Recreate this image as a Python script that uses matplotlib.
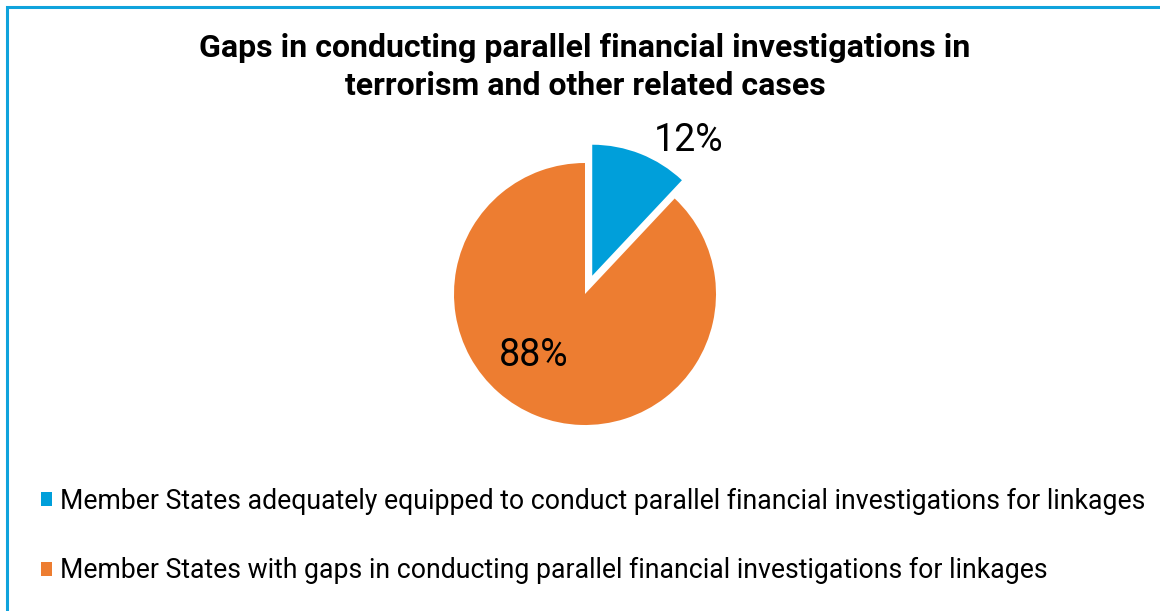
import matplotlib.pyplot as plt
from matplotlib.patches import Rectangle

plt.rcParams["font.family"] = ["Roboto", "DejaVu Sans"]

# data
labels = [
    "Member States adequately equipped to conduct parallel financial investigations for linkages",
    "Member States with gaps in conducting parallel financial investigations for linkages",
]
shares = [12, 88]
colors = ["#009FDA", "#ED7D31"]
title = "Gaps in conducting parallel financial investigations in\nterrorism and other related cases"

W, H = 1160, 611
fig = plt.figure(figsize=(W / 100, H / 100), dpi=100)

# pie axes: 400x400 px square centred on the pie
cx, cy, half = 585, 294, 200
ax = fig.add_axes([(cx - half) / W, (H - cy - half) / H, 2 * half / W, 2 * half / H])
wedges, texts, pcts = ax.pie(
    shares,
    colors=colors,
    startangle=90,
    counterclock=False,
    explode=[0.15, 0],
    autopct="%d%%",
    textprops={"fontsize": 27, "color": "black"},
)
lim = half / 131
ax.set_xlim(-lim, lim)
ax.set_ylim(-lim, lim)
ax.set_aspect("equal")
ax.axis("off")

# move percentage labels like the original (radius units)
pcts[0].set_position((0.79, 1.17))
pcts[1].set_position((-0.39, -0.47))

fig.text(cx / W, 1 - 67 / H, title, ha="center", va="center",
         fontsize=23, fontweight="bold", linespacing=1.3)

fig.legend(
    wedges, labels,
    loc="upper left", bbox_to_anchor=(30 / W, 1 - 477 / H),
    frameon=False, fontsize=19.2,
    handlelength=0.42, handleheight=0.42, handletextpad=0.3,
    labelspacing=1.6, borderaxespad=0,
)

# border on top and left only (rest runs off the picture)
fig.add_artist(Rectangle((7 / W, -0.1), 1.2, 1.1 - 7 / H, transform=fig.transFigure,
                         fill=False, edgecolor="#0FA3DC", linewidth=2.2))

fig.savefig("out.png", dpi=100)
